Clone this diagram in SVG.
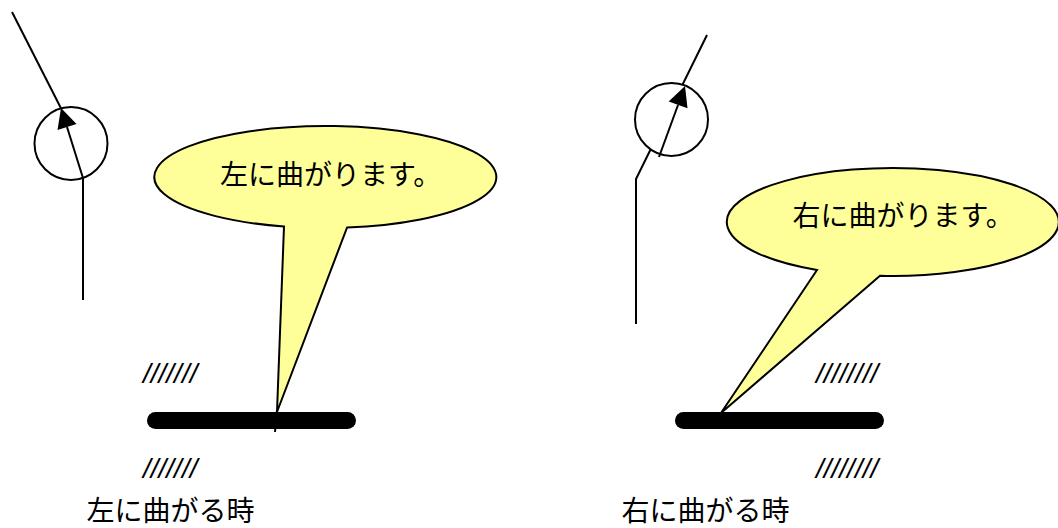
<svg xmlns="http://www.w3.org/2000/svg" width="1058" height="528" viewBox="0 0 1058 528">
  <style>
    .ln { fill: none; stroke: #000; stroke-width: 2; }
    .ring { fill: #fff; stroke: #000; stroke-width: 2; }
    .head { fill: #000; stroke: none; }
    .bubble { fill: #ffff99; stroke: #000; stroke-width: 2; stroke-linejoin: miter; }
    .bar { stroke: #000; stroke-width: 17; stroke-linecap: round; }
    .jp { font-family: "Noto Sans CJK JP", "Noto Sans CJK SC", sans-serif; font-size: 28px; fill: #000; }
    .hatch { font-family: "Liberation Sans", Arial, sans-serif; font-size: 28px; font-style: italic; fill: #000; }
  </style>
  <rect width="1058" height="528" fill="#fff"/>

  <g id="connectors">
    <line class="ln" x1="12" y1="12" x2="70" y2="126"/>
    <line class="ln" x1="83" y1="178" x2="83" y2="300"/>
    <polyline class="ln" points="707,35 636,179 636,324"/>
  </g>

  <g id="left-wheel">
    <circle class="ring" cx="71" cy="143.5" r="36.5"/>
    <line class="ln" x1="83" y1="178" x2="67" y2="127"/>
    <polygon class="head" points="61,108 57.5,130 76.5,124"/>
  </g>

  <g id="right-wheel">
    <circle class="ring" cx="671.5" cy="119.5" r="36.5"/>
    <line class="ln" x1="659" y1="157" x2="678" y2="105"/>
    <polygon class="head" points="685,86 668.7,101.4 687.5,108.2"/>
  </g>

  <g id="left-callout">
    <path class="bubble" d="M 284,226.5 L 277,412 L 347,227.6 A 171 51 0 1 0 284,226.5 Z"/>
    <text class="jp" x="220" y="185">左に曲がります。</text>
  </g>

  <g id="right-callout">
    <path class="bubble" d="M 817,270 L 721,413 L 880,275.8 A 166 54 0 1 0 817,270 Z"/>
    <text class="jp" x="792.5" y="226">右に曲がります。</text>
  </g>

  <g id="left-road">
    <line class="bar" x1="155.5" y1="420.5" x2="347.5" y2="420.5"/>
    <line class="ln" x1="277" y1="410" x2="275" y2="432"/>
    <text class="hatch" x="143" y="382.5">///////</text>
    <text class="hatch" x="143" y="477.5">///////</text>
  </g>

  <g id="right-road">
    <line class="bar" x1="683.5" y1="420.5" x2="875.5" y2="420.5"/>
    <text class="hatch" x="816" y="382.5">////////</text>
    <text class="hatch" x="816" y="477.5">////////</text>
  </g>

  <g id="left-label">
    <text class="jp" x="86.5" y="521">左に曲がる時</text>
  </g>
  <g id="right-label">
    <text class="jp" x="621.5" y="521">右に曲がる時</text>
  </g>
</svg>
